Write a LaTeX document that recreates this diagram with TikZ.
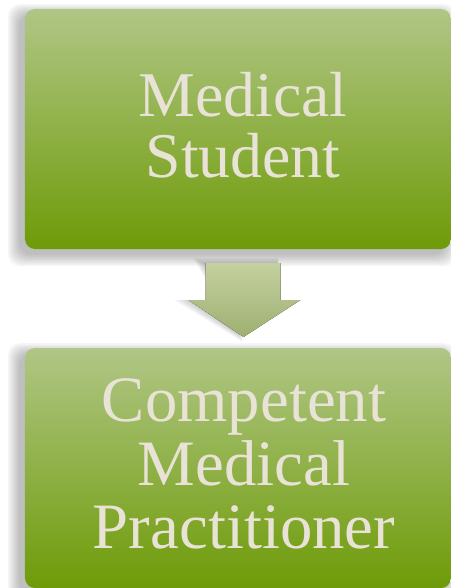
\documentclass[tikz,border=0pt]{standalone}
\usepackage{fontspec}
\setmainfont{Liberation Serif}
\usetikzlibrary{calc}
\definecolor{boxtop}{RGB}{176,198,134}
\definecolor{boxbot}{RGB}{110,155,8}
\definecolor{txt}{RGB}{232,227,214}
\definecolor{arrtop}{RGB}{196,208,160}
\definecolor{arrbot}{RGB}{158,176,112}
\tikzset{
  stagebox/.style={draw=none, rounded corners=10bp, top color=boxtop, bottom color=boxbot,
    minimum width=426bp, inner sep=0pt},
  stagetext/.style={align=center, text=txt, inner sep=0pt},
  blockarrow/.style={draw=none, top color=arrtop, bottom color=arrbot}
}
\newcommand{\softshadow}[2]{%
  \foreach \k in {0,...,7}{%
    \fill[black, opacity=0.035, rounded corners=12bp]
      ($(#1)+(-6-1.6*\k,-\k*1.4+5)$) rectangle ($(#2)+(-6+1.6*\k,\k*1.6+6)$);
  }%
}
\begin{document}
\begin{tikzpicture}[x=1bp,y=-1bp]
\useasboundingbox (0,0) rectangle (451,588);
% shadows
\coordinate (s1a) at (25,9); \coordinate (s1b) at (451,249);
\coordinate (s2a) at (25,348); \coordinate (s2b) at (451,588);
\softshadow{s1a}{s1b}
\softshadow{s2a}{s2b}
\foreach \k in {0,...,5}{
  \fill[black, opacity=0.04] ($(203-2*\k,263-\k)$) -- ($(278,263-\k)$) -- ($(278,300)$) -- ($(189-3*\k,300)$) -- ($(243,337+\k)$) -- cycle;
}
\node[stagebox, minimum height=240bp] (student) at (238,129) {};
\node[stagetext, font=\fontsize{64}{61}\selectfont] (studenttext) at ($(student.center)+(5,-4)$)
  {Medical\\Student};
\node[stagebox, minimum height=240bp] (practitioner) at (238,468) {};
\node[stagetext, font=\fontsize{65}{64}\selectfont] (practitionertext) at ($(practitioner.center)+(6,-4)$)
  {Competent\\Medical\\Practitioner};
% block arrow
\coordinate (atop) at (243.5,263);
\fill[blockarrow] ($(atop)+(-38,0)$) -- ($(atop)+(37,0)$) -- ($(atop)+(37,37)$) -- ($(atop)+(57,37)$)
  -- ($(atop)+(0,74)$) -- ($(atop)+(-55,37)$) -- ($(atop)+(-38,37)$) -- cycle;
\end{tikzpicture}
\end{document}
